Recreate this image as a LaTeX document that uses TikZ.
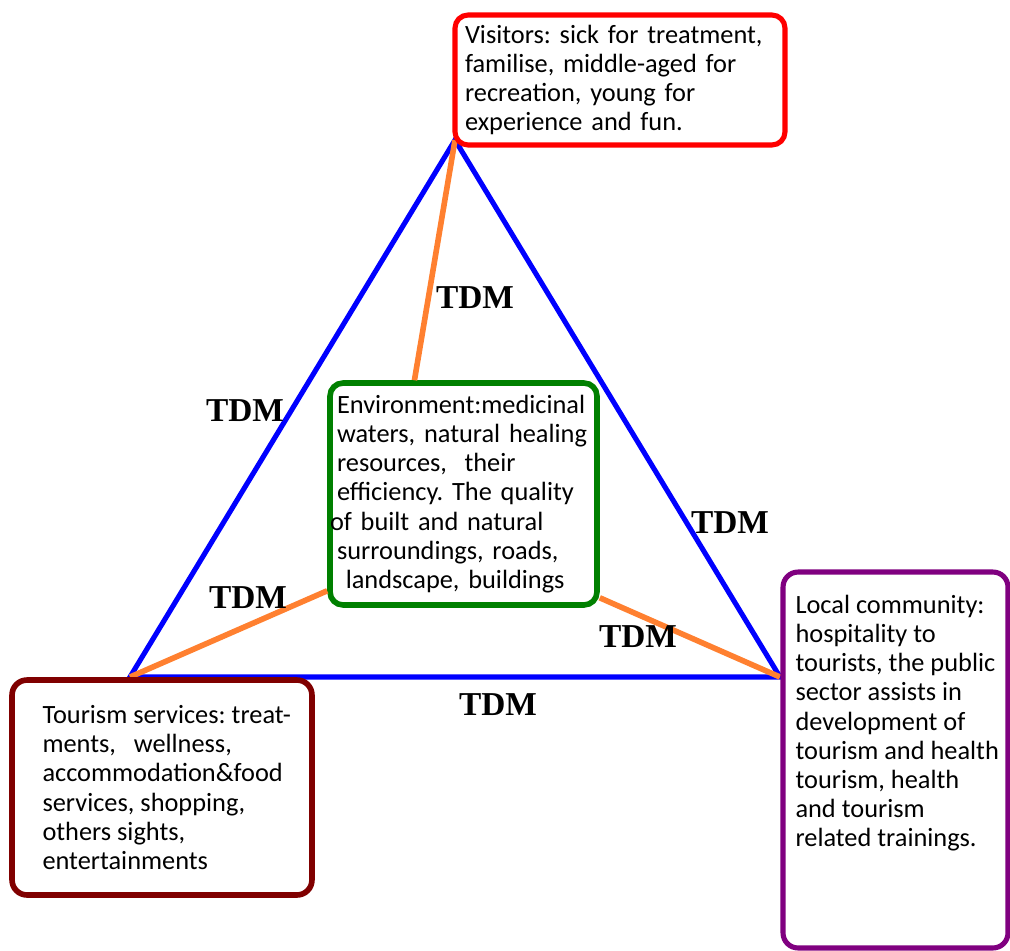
\documentclass[tikz,border=0pt]{standalone}
\usepackage{fontspec}
\setmainfont{Carlito}
\newfontfamily\tdmfont{Liberation Serif}
\usepackage{tikz}
\usetikzlibrary{positioning,calc}
\definecolor{VisRed}{RGB}{255,0,0}
\definecolor{EnvGreen}{RGB}{0,128,0}
\definecolor{ServRed}{RGB}{128,0,0}
\definecolor{CommPurple}{RGB}{128,0,128}
\definecolor{LinkOrange}{RGB}{255,128,48}
\definecolor{TriBlue}{RGB}{0,0,255}
\tikzset{
  card/.style={rectangle, rounded corners=0.26cm, line width=2.9pt, fill=white,
    align=left, inner sep=0pt, font=\fontsize{15}{16.6}\selectfont\frenchspacing},
  tdm/.style={font=\tdmfont\bfseries\fontsize{19}{21}\selectfont},
  side/.style={line width=2.9pt, draw=TriBlue, line join=miter},
  link/.style={line width=3.2pt, draw=LinkOrange}
}

\begin{document}
\begin{tikzpicture}[x=0.02cm, y=-0.02cm]
  \useasboundingbox (0,0) rectangle (1010,950);

  % triangle corners
  \coordinate (top) at (455,140);
  \coordinate (left) at (130,677);
  \coordinate (right) at (780,677);
  \draw[side] (top) -- (left) -- (right) -- cycle;

  % centre box
  \node[card, draw=EnvGreen, line width=3.2pt, minimum width=5.34cm, minimum height=4.44cm,
    text width=5.06cm] (environment) at (463.5,494)
    {Environment:medicinal\\ waters, natural healing\\ resources,\ \ their\\
     efficiency. The quality\\ \hspace*{-0.14cm}of built and natural\\ surroundings, roads,\\
     \ landscape, buildings};

  % orange links to the centre
  \draw[link] (top) -- ($(environment.north west)!0.32!(environment.north east)$);
  \draw[link] (left) -- ($(environment.south west)+(0,-17)$);
  \draw[link] ($(environment.south east)+(0,-10)$) -- (right);

  % corner boxes
  \node[card, draw=VisRed, minimum width=6.6cm, minimum height=2.6cm,
    text width=6.2cm] (visitors) at (620,80)
    {Visitors: sick for treatment,\\ familise, middle-aged for\\
     recreation, young for\\ experience and fun.};
  \node[card, draw=ServRed, line width=3.2pt, rounded corners=0.3cm, minimum width=6cm,
    minimum height=4.3cm] (services) at (162,787.5)
    {\hspace*{0.32cm}\parbox{5.1cm}{\raggedright\mbox{Tourism services: treat-}\\
     ments,\ \ \ wellness,\\ accommodation\&food\\ services, shopping,\\
     others sights,\\ entertainments}};
  \node[card, draw=CommPurple, rounded corners=0.3cm, minimum width=4.5cm,
    minimum height=7.52cm] (community) at (895.5,760)
    {\hspace*{0.2cm}\parbox[c][6.6cm][t]{4.2cm}{\raggedright Local community:\\ hospitality to\\
     tourists, the public\\ sector assists in\\ development of\\ tourism and health\\
     tourism, health\\ and tourism\\ related trainings.}};

  % TDM labels
  \node[tdm] (tdmtop) at (475,298) {TDM};
  \node[tdm] (tdmleft) at (245,411) {TDM};
  \node[tdm] (tdmright) at (730,523) {TDM};
  \node[tdm] (tdmlowleft) at (248,598) {TDM};
  \node[tdm] (tdmlowright) at (638,637) {TDM};
  \node[tdm] (tdmbottom) at (498,705) {TDM};
\end{tikzpicture}
\end{document}
